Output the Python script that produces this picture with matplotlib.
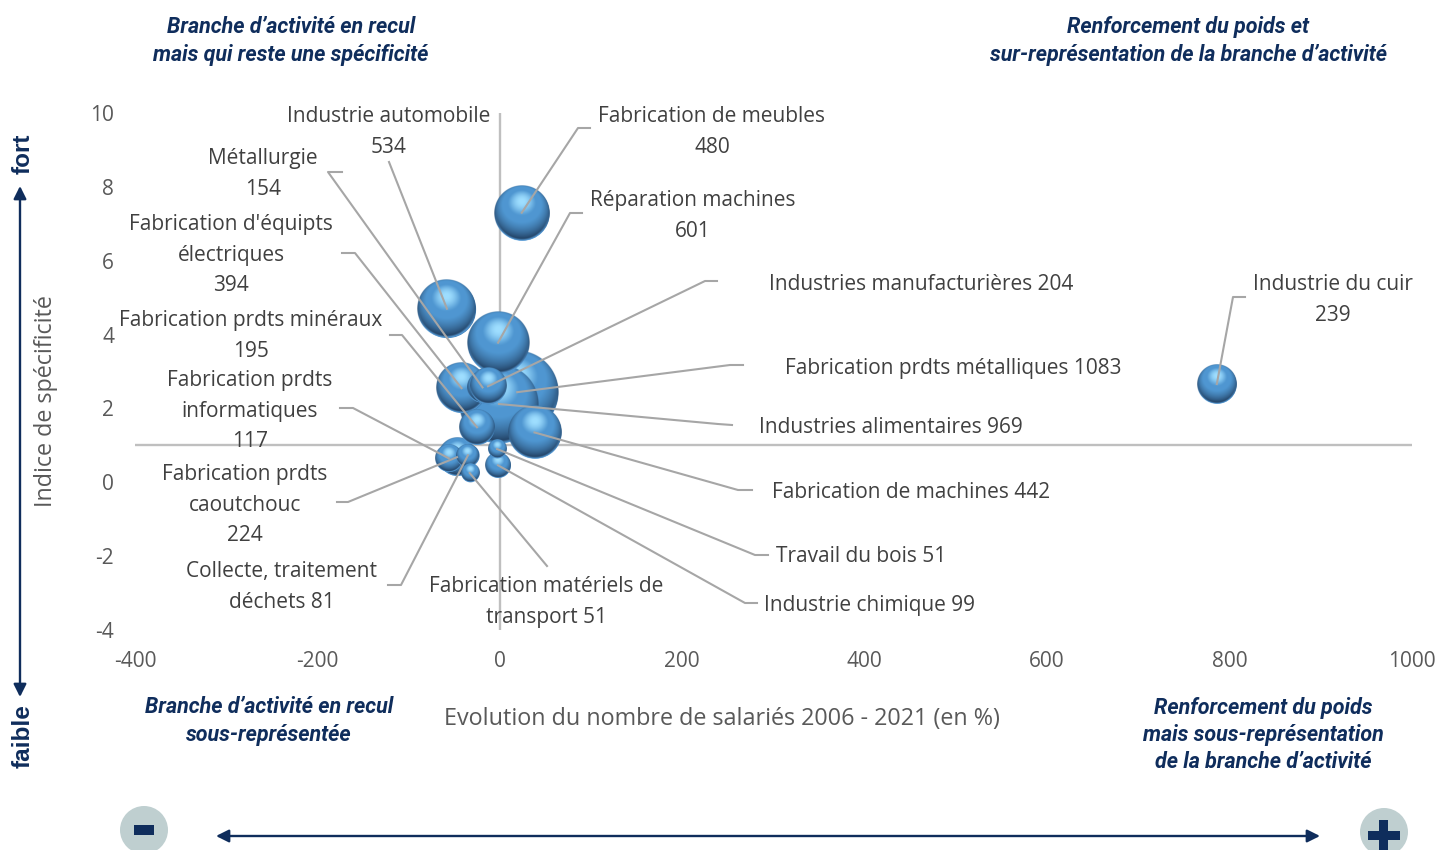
"""
Bulles : evolution du nombre de salaries / indice de specificite
"""
import matplotlib
matplotlib.use("Agg")
import matplotlib.pyplot as plt
from matplotlib.patches import Circle, Rectangle
import numpy as np

plt.rcParams["font.family"] = ["Open Sans", "DejaVu Sans"]
plt.rcParams["axes.unicode_minus"] = False

NAVY = "#0f2d5c"
GREY = "#595959"
LINE = "#a6a6a6"
AXIS = "#bfbfbf"
HEAD = ["Roboto", "Liberation Sans"]

# dans l'ordre de dessin (les dernieres bulles passent devant)
names = ["Fabrication prdts métalliques", "Industries alimentaires", "Réparation machines",
         "Industrie automobile", "Fabrication de meubles", "Fabrication de machines",
         "Fabrication d'équipts électriques", "Industrie du cuir", "Fabrication prdts caoutchouc",
         "Métallurgie", "Industries manufacturières", "Fabrication prdts minéraux",
         "Fabrication prdts informatiques", "Industrie chimique", "Collecte, traitement déchets",
         "Fabrication matériels de transport", "Travail du bois"]
evol = [19, -1, -2, -58, 24, 38, -42, 786, -47, -19, -13, -25, -56, -2, -35, -33, -3]
indice = [2.44, 2.12, 3.78, 4.7, 7.3, 1.35, 2.55, 2.66, 0.68, 2.57, 2.6, 1.49, 0.65, 0.46, 0.73, 0.25, 0.9]
salaries = [1083, 969, 601, 534, 480, 442, 394, 239, 224, 154, 204, 195, 117, 99, 81, 51, 51]

xticks = [-400, -200, 0, 200, 400, 600, 800, 1000]
yticks = [-4, -2, 0, 2, 4, 6, 8, 10]

# texte des etiquettes : lignes, x, y (px)
label_txt = {
    "Fabrication prdts métalliques": ("Fabrication prdts métalliques 1083", 953, 368),
    "Industries alimentaires": ("Industries alimentaires 969", 891, 427),
    "Réparation machines": ("Réparation machines\n601", 693, 216),
    "Industrie automobile": ("Industrie automobile\n534", 389, 132),
    "Fabrication de meubles": ("Fabrication de meubles\n480", 712, 132),
    "Fabrication de machines": ("Fabrication de machines 442", 911, 492),
    "Fabrication d'équipts électriques": ("Fabrication d'équipts\nélectriques\n394", 231, 255),
    "Industrie du cuir": ("Industrie du cuir\n239", 1333, 300),
    "Fabrication prdts caoutchouc": ("Fabrication prdts\ncaoutchouc\n224", 245, 505),
    "Métallurgie": ("Métallurgie\n154", 263, 174),
    "Industries manufacturières": ("Industries manufacturières 204", 921, 284),
    "Fabrication prdts minéraux": ("Fabrication prdts minéraux\n195", 251, 336),
    "Fabrication prdts informatiques": ("Fabrication prdts\ninformatiques\n117", 250, 411),
    "Industrie chimique": ("Industrie chimique 99", 870, 605),
    "Collecte, traitement déchets": ("Collecte, traitement\ndéchets 81", 282, 587),
    "Fabrication matériels de transport": ("Fabrication matériels de\ntransport 51", 546, 602),
    "Travail du bois": ("Travail du bois 51", 861, 557),
}
# lignes de rappel : coude puis fin (px)
leaders = {
    "Fabrication prdts métalliques": [(730, 365), (743, 365)],
    "Industries alimentaires": [(718, 424), (732, 425)],
    "Réparation machines": [(570, 213), (582, 213)],
    "Industrie automobile": [(389, 162)],
    "Fabrication de meubles": [(578, 128), (590, 128)],
    "Fabrication de machines": [(738, 490), (752, 490)],
    "Fabrication d'équipts électriques": [(355, 253), (342, 253)],
    "Industrie du cuir": [(1233, 297), (1245, 297)],
    "Fabrication prdts caoutchouc": [(348, 502), (337, 502)],
    "Métallurgie": [(328, 172), (342, 172)],
    "Industries manufacturières": [(705, 281), (717, 281)],
    "Fabrication prdts minéraux": [(402, 335), (390, 335)],
    "Fabrication prdts informatiques": [(353, 408), (340, 408)],
    "Industrie chimique": [(745, 603), (757, 603)],
    "Collecte, traitement déchets": [(401, 585), (388, 585)],
    "Fabrication matériels de transport": [(547, 566)],
    "Travail du bois": [(755, 555), (768, 555)],
}


def sphere(n=240):
    # petite sphere eclairee par le haut
    v, u = np.mgrid[-1:1:n*1j, -1:1:n*1j]   # v vers le bas
    r = np.hypot(u, v)
    z = np.sqrt(np.clip(1 - r**2, 0, 1))
    l = np.array([0.0, -0.42, 0.91])
    diff = np.clip(u*l[0] + v*l[1] + z*l[2], 0, 1)
    dark = np.array([0.14, 0.27, 0.41])
    base = np.array([0.31, 0.59, 0.82])
    glow = np.array([0.62, 0.87, 1.00])
    rim = np.array([0.40, 0.70, 0.95])
    t = np.clip(diff/0.72, 0, 1)[..., None]**1.1
    img = dark*(1 - t) + base*t
    g = np.clip((diff - 0.86)/0.14, 0, 1)[..., None]**1.4
    img = img*(1 - g) + glow*g
    edge = np.clip((r - 0.91)/0.09, 0, 1)[..., None]*np.clip(v*1.4, 0, 1)[..., None]
    img = img*(1 - edge) + rim*edge
    alpha = np.clip((1 - r)*n/4, 0, 1)
    return np.dstack([np.clip(img, 0, 1), alpha])


fig = plt.figure(figsize=(14.4, 8.5), dpi=100, facecolor="white")

# axe principal cale en pixels
L, R, T, B = 135, 1412, 113, 630
ax = fig.add_axes([L/1440, 1 - B/850, (R - L)/1440, (B - T)/850])
ax.set_xlim(-400, 1000); ax.set_ylim(-4, 10)
ax.patch.set_visible(False)
for s in ["top", "right", "left", "bottom"]:
    ax.spines[s].set_visible(False)
ax.axvline(0, color=AXIS, lw=1.7, zorder=0)
ax.axhline(1, color=AXIS, lw=1.7, zorder=0)
ax.set_xticks(xticks); ax.set_yticks(yticks)
ax.tick_params(length=0, labelsize=15, labelcolor=GREY)
ax.tick_params(axis="x", pad=15)
ax.tick_params(axis="y", pad=15)

# bulles
img = sphere()
ppx = (R - L)/1400; ppy = (B - T)/14
for i, (x, y, sz) in enumerate(zip(evol, indice, salaries)):
    r = 42*np.sqrt(sz/1083)
    ax.scatter([x], [y], s=(2*r*0.72*0.97)**2, color="#3f7fb8", linewidths=0, zorder=2 + 2*i)
    ax.imshow(img, extent=(x - r/ppx, x + r/ppx, y - r/ppy, y + r/ppy),
              aspect="auto", zorder=3 + 2*i)
ax.set_xlim(-400, 1000); ax.set_ylim(-4, 10)

# calque en pixels pour le reste
ov = fig.add_axes([0, 0, 1, 1])
ov.set_xlim(0, 1440); ov.set_ylim(850, 0)
ov.axis("off"); ov.patch.set_visible(False)

for nm, x, y in zip(names, evol, indice):
    cx, cy = L + (x + 400)*ppx, T + (10 - y)*ppy
    pts = [(cx, cy)] + leaders[nm]
    ov.plot([p[0] for p in pts], [p[1] for p in pts], color=LINE, lw=1.5)
    txt, tx, ty = label_txt[nm]
    ov.text(tx, ty, txt, ha="center", va="center", fontsize=15, color="#404040", linespacing=1.58)

ov.text(722, 719, "Evolution du nombre de salariés 2006 - 2021 (en %)", ha="center", va="center",
        fontsize=16.8, color=GREY)
ov.text(46, 401, "Indice de spécificité", rotation=90, ha="center", va="center",
        fontsize=16.8, color=GREY)

# titres de quadrants
for txt, x, y in [("Branche d’activité en recul\nmais qui reste une spécificité", 291, 41),
                  ("Renforcement du poids et\nsur-représentation de la branche d’activité", 1188, 41),
                  ("Branche d’activité en recul\nsous-représentée", 269, 721),
                  ("Renforcement du poids\nmais sous-représentation\nde la branche d’activité", 1263, 735)]:
    ov.text(x, y, txt, ha="center", va="center", family=HEAD, fontsize=15.5, color=NAVY,
            fontweight="bold", style="italic", linespacing=1.32)

ov.text(23, 154, "fort", rotation=90, ha="center", va="center", family="Liberation Sans", fontsize=17.5,
        fontweight="bold", color=NAVY)
ov.text(23, 736, "faible", rotation=90, ha="center", va="center", family="Liberation Sans", fontsize=17.5,
        fontweight="bold", color=NAVY)

# fleches
for p1, p2 in [((20, 697), (20, 186)), ((216, 836), (1320, 836))]:
    ov.annotate("", xy=p2, xytext=p1,
                arrowprops=dict(arrowstyle="<|-|>", color=NAVY, lw=1.7, mutation_scale=19,
                                shrinkA=0, shrinkB=0))

# signes - et +
ov.add_patch(Circle((144, 830), 24, fc="#bfcfd0", ec="none"))
ov.add_patch(Rectangle((134, 825), 20, 10, fc=NAVY, ec="none"))
ov.add_patch(Circle((1384, 832), 24, fc="#bfcfd0", ec="none"))
ov.add_patch(Rectangle((1368, 831), 32, 9, fc=NAVY, ec="none"))
ov.add_patch(Rectangle((1379, 820), 9, 30, fc=NAVY, ec="none"))

fig.savefig("out.png", dpi=100, facecolor="white")
plt.close(fig)
